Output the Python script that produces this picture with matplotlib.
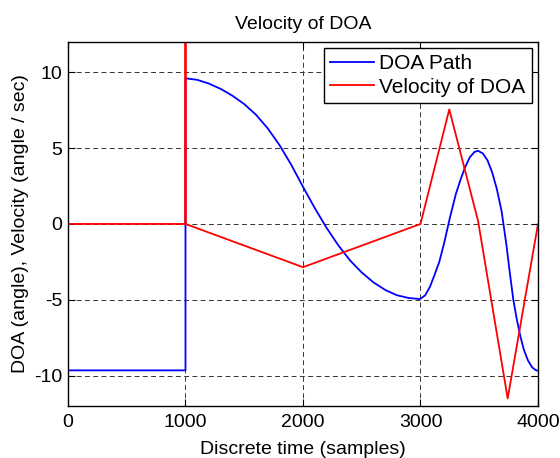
import matplotlib.pyplot as plt

plt.rcParams['font.family'] = ['Liberation Sans', 'DejaVu Sans']

# DOA path
doa_x = [0, 1000, 1000, 1100, 1200, 1300, 1400, 1500, 1600, 1700, 1800,
         1900, 2000, 2100, 2200, 2300, 2400, 2500, 2600, 2700, 2800, 2900,
         2996, 3040, 3080, 3120, 3160, 3200, 3250, 3300, 3340, 3380, 3420,
         3460, 3490, 3530, 3570, 3610, 3650, 3690, 3730, 3760, 3790, 3820,
         3850, 3880, 3915, 3950, 3980, 4000]
doa_y = [-9.65, -9.65, 9.6, 9.5, 9.25, 8.9, 8.45, 7.9, 7.2, 6.3, 5.2,
         3.9, 2.45, 1.05, -0.25, -1.4, -2.4, -3.2, -3.85, -4.35, -4.7, -4.88,
         -4.95, -4.7, -4.15, -3.35, -2.5, -1.3, 0.4, 1.95, 2.9, 3.75, 4.4,
         4.75, 4.82, 4.65, 4.2, 3.4, 2.3, 0.85, -1.3, -3.2, -5.0, -6.3,
         -7.4, -8.3, -9.0, -9.45, -9.63, -9.68]

# Velocity of DOA
vel_x = [0, 1000, 1000, 1000, 2000, 3000, 3245, 3490, 3742, 4000]
vel_y = [0, 0, 60, 0, -2.85, 0, 7.55, 0.2, -11.5, 0]

xticks = [0, 1000, 2000, 3000, 4000]
yticks = [-10, -5, 0, 5, 10]

fig = plt.figure(figsize=(5.6, 4.58), dpi=100)
ax = fig.add_axes([0.1214, 0.1135, 0.8393, 0.795])

ax.plot(doa_x, doa_y, color='#0000ff', lw=1.3, label='DOA Path')
ax.plot(vel_x, vel_y, color='#ff0000', lw=1.3, label='Velocity of DOA')

ax.set_xlim(0, 4000)
ax.set_ylim(-12, 12)
ax.set_xticks(xticks)
ax.set_yticks(yticks)
ax.set_xticklabels([str(t) for t in xticks])
ax.set_yticklabels([str(t) for t in yticks])
ax.tick_params(direction='in', top=True, right=True, length=5, width=0.8,
               labelsize=14)
ax.tick_params(axis='y', pad=4)
ax.tick_params(axis='x', pad=6)
ax.grid(True, color='0.2', lw=0.7, linestyle=(0, (5, 3.5)))
for s in ax.spines.values():
    s.set_linewidth(1.0)

ax.set_title('Velocity of DOA', fontsize=14, pad=9)
ax.set_xlabel('Discrete time (samples)', fontsize=14, labelpad=7)
ax.set_ylabel('DOA (angle), Velocity (angle / sec)', fontsize=14, labelpad=4)

leg = ax.legend(loc='upper right', fontsize=15, fancybox=False, framealpha=1,
                edgecolor='black', borderaxespad=0.3, handlelength=2.1,
                handletextpad=0.25, borderpad=0.3, labelspacing=0.2)
leg.get_frame().set_linewidth(1.0)

fig.savefig('out.png', dpi=100)
